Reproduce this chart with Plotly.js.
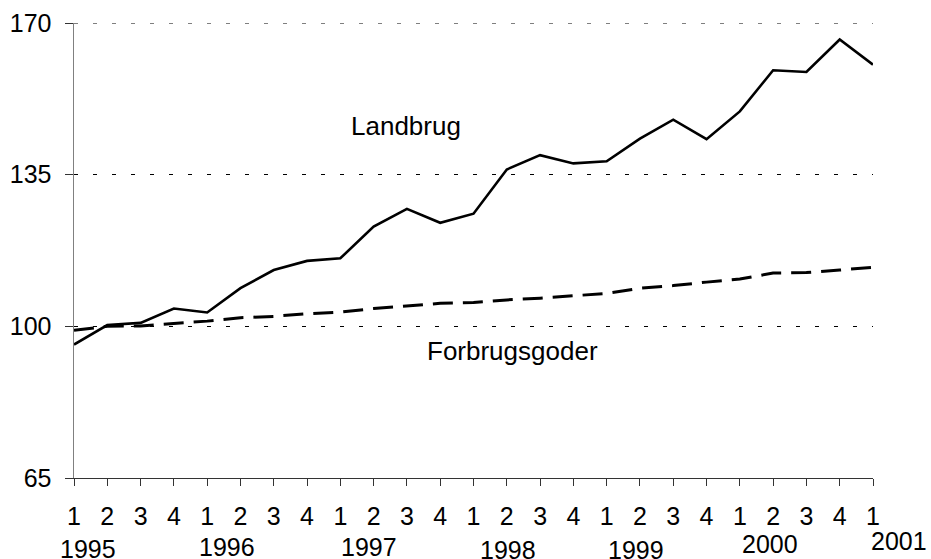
<!DOCTYPE html>
<html>
<head>
<meta charset="utf-8">
<script src="https://cdn.plot.ly/plotly-3.0.1.min.js"></script>
<style>html,body{margin:0;padding:0;background:#fff;}#chart{width:931px;height:559px;}</style>
</head>
<body>
<div id="chart"></div>
<script>
// ---- data ----
var quarterIndex = [0,1,2,3,4,5,6,7,8,9,10,11,12,13,14,15,16,17,18,19,20,21,22,23,24];
var quarterLabels = ["1","2","3","4","1","2","3","4","1","2","3","4","1","2","3","4","1","2","3","4","1","2","3","4","1"];
var years = ["1995","1996","1997","1998","1999","2000","2001"];
var landbrug = [95.8,100.3,100.8,104.1,103.2,108.8,113.0,115.1,115.7,123.0,127.1,123.9,126.0,136.2,139.5,137.6,138.1,143.3,147.7,143.2,149.6,159.1,158.7,166.2,160.4];
var forbrugsgoder = [99.1,100.0,100.1,100.6,101.2,102.0,102.3,102.9,103.3,104.1,104.7,105.3,105.5,106.1,106.5,107.0,107.6,108.8,109.4,110.2,110.9,112.3,112.4,113.0,113.6];
var seriesNames = ["Landbrug","Forbrugsgoder"];
var yTicks = [65,100,135,170];

// ---- layout helpers ----
var M = {l:74, r:58, t:23, b:81};
var W = 931, H = 559, plotH = H - M.t - M.b, plotBottom = H - M.b;
function pxToPaper(py){ return (plotBottom - py) / plotH; }
var nQ = quarterIndex.length - 1;
var font = "Liberation Sans, Arial, sans-serif";

var yearOffsets = [0.41,0.61,0.86,1.03,0.88,0.9,0.77];
var yearTops = [533,531,531,534,534,528,525];

var annotations = years.map(function(y,i){
  return {text:y, x:(4*i + yearOffsets[i]) / nQ, xref:'paper', y:pxToPaper(yearTops[i]), yref:'paper',
          xanchor:'center', yanchor:'top', showarrow:false, font:{family:font,size:25,color:'#000'}};
});
annotations.push({text:seriesNames[0], x:9.96, xref:'x', y:146.3, yref:'y', xanchor:'center', yanchor:'middle',
  showarrow:false, font:{family:font,size:26,color:'#000'}});
annotations.push({text:seriesNames[1], x:13.17, xref:'x', y:94.2, yref:'y', xanchor:'center', yanchor:'middle',
  showarrow:false, font:{family:font,size:26,color:'#000'}});

var traces = [
  {x:quarterIndex, y:landbrug, name:seriesNames[0], type:'scatter', mode:'lines',
   line:{color:'#000', width:2.6}},
  {x:quarterIndex, y:forbrugsgoder, name:seriesNames[1], type:'scatter', mode:'lines',
   line:{color:'#000', width:3, dash:'20px,10px'}}
];

var layout = {
  width:W, height:H, margin:M, showlegend:false,
  paper_bgcolor:'#fff', plot_bgcolor:'#fff',
  font:{family:font, size:25, color:'#000'},
  xaxis:{range:[0,nQ], tickmode:'array', tickvals:quarterIndex, ticktext:quarterLabels,
    showgrid:false, zeroline:false, showline:true, linecolor:'#333', linewidth:1,
    ticks:'outside', ticklen:7, tickcolor:'#333', tickwidth:1, ticklabelstandoff:9,
    tickfont:{family:font,size:25,color:'#000'}},
  yaxis:{range:[yTicks[0], yTicks[yTicks.length-1]], tickmode:'array', tickvals:yTicks, ticktext:yTicks.map(String),
    showgrid:true, gridcolor:'#000', gridwidth:1, griddash:'4px,15px', zeroline:false,
    showline:true, linecolor:'#808080', linewidth:1.5,
    ticks:'outside', ticklen:8, tickcolor:'#333', tickwidth:1, ticklabelstandoff:8,
    tickfont:{family:font,size:25,color:'#000'}},
  shapes:[{type:'line', xref:'paper', x0:0, x1:1, yref:'y', y0:yTicks[yTicks.length-1], y1:yTicks[yTicks.length-1],
    line:{color:'#000', width:1, dash:'4px,15px'}, layer:'below'}],
  annotations:annotations
};
Plotly.newPlot('chart', traces, layout, {staticPlot:true, displayModeBar:false});
</script>
</body>
</html>
